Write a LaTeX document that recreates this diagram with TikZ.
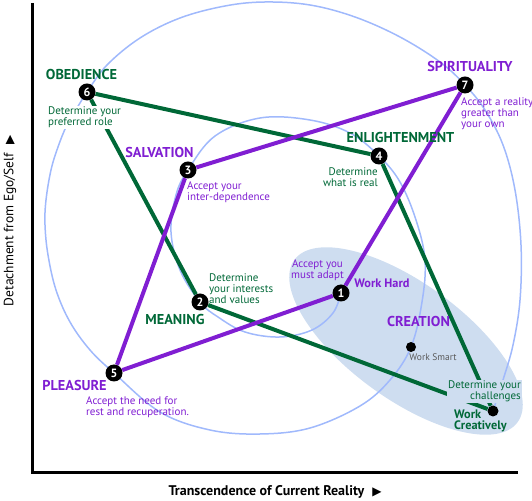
\documentclass[tikz,border=0pt]{standalone}
\usepackage{fontspec}
\setmainfont{PT Sans}
\newfontfamily\symfont{DejaVu Sans}

\definecolor{egogreen}{RGB}{0,104,55}
\definecolor{egopurple}{RGB}{128,30,210}
\definecolor{spiralblue}{RGB}{160,185,252}
\definecolor{zonefill}{RGB}{206,221,240}

\tikzset{
  greenline/.style={draw=egogreen, line width=4pt},
  purpleline/.style={draw=egopurple, line width=4pt},
  spiral/.style={draw=spiralblue, line width=1.5pt},
  numdot/.style={circle, fill=black, text=white, inner sep=0pt, minimum size=17pt,
    font=\bfseries\fontsize{12}{12}\selectfont},
  smalldot/.style={circle, fill=black, inner sep=0pt, minimum size=#1},
  title/.style={font=\bfseries\fontsize{14.3}{14}\selectfont, inner sep=0pt},
  note/.style={font=\fontsize{11}{11}\selectfont, inner sep=0pt},
}

\begin{document}
\begin{tikzpicture}[x=1pt,y=1pt]
                \useasboundingbox (0,0) rectangle (532,500);
                % axes
                \draw[line width=3pt] (32,497) -- (32,27.5) -- (518,27.5);
                \node (xlabel) at (275,8) {\bfseries\fontsize{14}{14}\selectfont Transcendence of Current Reality\hspace{8pt}{\symfont\fontsize{12}{12}\selectfont ▶}};
                \node[rotate=90] (ylabel) at (10,279) {\fontsize{13.5}{13.5}\selectfont Detachment from Ego/Self\hspace{8pt}{\symfont\fontsize{12}{12}\selectfont ▶}};
                % creation zone
                \fill[zonefill, rotate around={-36:(406,159)}] (406,159) ellipse [x radius=138, y radius=58];
                % spiral through the stages
                \draw[spiral] plot[smooth, tension=0.6] coordinates {
                  (341,207) (333,187) (312,170) (280,163) (245,168) (218,183)
                  (200,198) (180,230) (171,268) (176,305)
                  (188,330) (215,364) (260,382) (310,380) (350,367)
                  (379,344) (400,318) (416,280) (425,240) (422,198)
                  (411,153) (390,120) (360,94) (310,72) (260,66) (210,70) (160,88)
                  (114,127) (90,150) (70,178) (56,210) (48,245) (45,275) (46,300)
                  (51,330) (58,353) (67,375) (80,397)
                  (87,408) (107,435) (140,462) (180,482) (225,494) (265,498)
                  (310,495) (355,483) (400,463) (440,438)
                  (465,415) (485,390) (503,355) (515,310) (521,255) (520,200)
                  (513,155) (503,120) (493,89)};
                % stages
                \node[numdot] (n1) at (341,207) {1};
                \node[numdot] (n2) at (200,198) {2};
                \node[numdot] (n3) at (188,330) {3};
                \node[numdot] (n4) at (379,344) {4};
                \node[numdot] (n5) at (114,127) {5};
                \node[numdot] (n6) at (87,408) {6};
                \node[numdot] (n7) at (465,415) {7};
                \node[smalldot=10pt] (ws) at (411,153) {};
                \node[smalldot=11pt] (wc) at (493,89) {};
                % paths
                \draw[greenline] (n6) -- (n4);
                \draw[greenline] (n4) -- (wc);
                \draw[greenline] (n6) -- (n2);
                \draw[greenline] (n2) -- (wc);
                \draw[purpleline] (n5) -- (n3);
                \draw[purpleline] (n3) -- (n7);
                \draw[purpleline] (n7) -- (n1);
                \draw[purpleline] (n1) -- (n5);
                % labels
                \node[title, text=egogreen] (t6) at (81.5,425) {OBEDIENCE};
                \node[title, text=egopurple] (t3) at (159.5,347) {SALVATION};
                \node[title, text=egogreen] (t4) at (400.5,362) {ENLIGHTENMENT};
                \node[title, text=egopurple] (t7) at (470,433) {SPIRITUALITY};
                \node[title, text=egogreen] (t2) at (175,181) {MEANING};
                \node[title, text=egopurple] (t5) at (74.5,115) {PLEASURE};
                \node[title, text=egopurple] (tc) at (418.5,179) {CREATION};
                \node[note, text=egopurple, font=\bfseries\fontsize{12.3}{12}\selectfont] (t1) at (382,217) {Work Hard};
                \node[note, text=egogreen, align=left, anchor=west, font=\bfseries\fontsize{12.3}{11.5}\selectfont] (twc) at (454,79) {Work\\Creatively};
                \node[note, text=black!65, font=\fontsize{9.5}{9}\selectfont] (tws) at (433,143) {Work Smart};
                \node[note, text=egogreen, align=left, anchor=west, fill=white, inner sep=1pt] (d6) at (47,382.5) {Determine your\\preferred role};
                \node[note, text=egopurple, align=left, anchor=west] (d3) at (187,307.5) {Accept your\\inter-dependence};
                \node[note, text=egogreen, align=right, anchor=east] (d4) at (378,322.5) {Determine\\what is real};
                \node[note, text=egopurple, align=left, anchor=west] (d7) at (461,386.5) {Accept a reality\\greater than\\your own};
                \node[note, text=egogreen, align=left, anchor=west] (d2) at (209,211) {Determine\\your interests\\and values};
                \node[note, text=egopurple, align=left, anchor=west] (d5) at (86,93) {Accept the need for\\rest and recuperation.};
                \node[note, text=egopurple, align=center] (d1) at (317.5,229.5) {Accept you\\must adapt};
                \node[note, text=egogreen, align=right, anchor=east, fill=zonefill, inner sep=1pt] (dwc) at (522,108.3) {Determine your\\challenges};
            \end{tikzpicture}
\end{document}
